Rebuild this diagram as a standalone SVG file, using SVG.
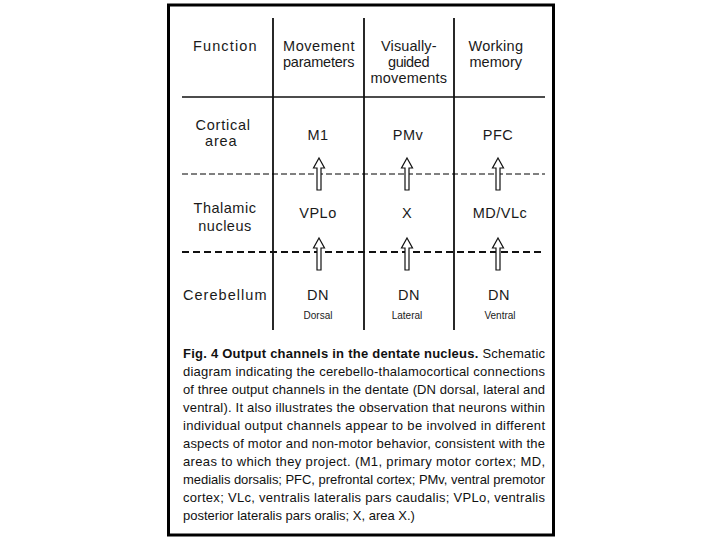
<svg xmlns="http://www.w3.org/2000/svg" width="720" height="540" viewBox="0 0 720 540">
<style>
.t{font-family:"Liberation Sans",Arial,sans-serif;font-size:14.5px;fill:#1a1a1a;letter-spacing:0.5px;text-anchor:middle}
.s{font-family:"Liberation Sans",Arial,sans-serif;font-size:10px;fill:#1a1a1a;text-anchor:middle}
.c{font-family:"Liberation Sans",Arial,sans-serif;font-size:13px;fill:#111}
.b{font-weight:bold}
.grid{stroke:#111;fill:none}
.arr{fill:#fff;stroke:#111;stroke-width:1.2;stroke-linejoin:miter}
</style>
<defs>
<path id="up" d="M0,0 L5.5,10 L2,10 L2,32 L-2,32 L-2,10 L-5.5,10 Z"/>
</defs>
<rect x="0" y="0" width="720" height="540" fill="#fff"/>
<rect x="168.5" y="5" width="385" height="530" fill="#fff" stroke="#000" stroke-width="3"/>
<g id="grid" class="grid">
<line x1="273" y1="18" x2="273" y2="330" stroke-width="1.8"/>
<line x1="364" y1="18" x2="364" y2="330" stroke-width="1.8"/>
<line x1="454" y1="18" x2="454" y2="330" stroke-width="1.8"/>
<line x1="182" y1="97" x2="545" y2="97" stroke-width="1.5"/>
<line x1="182" y1="174" x2="545" y2="174" stroke="#000" stroke-width="1" stroke-dasharray="6,3"/>
<line x1="182" y1="252" x2="545" y2="252" stroke-width="2" stroke-dasharray="7,4"/>
</g>
<g id="header">
<text class="t" x="225" y="51" textLength="64">Function</text>
<text class="t" x="319" y="51" textLength="72">Movement</text>
<text class="t" x="319" y="67" textLength="72">parameters</text>
<text class="t" x="409" y="51" textLength="56">Visually-</text>
<text class="t" x="409" y="67" textLength="42">guided</text>
<text class="t" x="409" y="83" textLength="77">movements</text>
<text class="t" x="496" y="51" textLength="55">Working</text>
<text class="t" x="496" y="67" textLength="53">memory</text>
</g>
<g id="row-cortical">
<text class="t" x="223" y="130" textLength="55">Cortical</text>
<text class="t" x="221" y="146" textLength="32">area</text>
</g>
<g id="M1"><text class="t" x="318" y="140">M1</text></g>
<g id="PMv"><text class="t" x="408" y="140">PMv</text></g>
<g id="PFC"><text class="t" x="498" y="140">PFC</text></g>
<g id="row-thalamic">
<text class="t" x="225" y="213">Thalamic</text>
<text class="t" x="225" y="231">nucleus</text>
</g>
<g id="VPLo"><text class="t" x="318" y="218">VPLo</text></g>
<g id="X"><text class="t" x="407" y="218">X</text></g>
<g id="MDVLc"><text class="t" x="500" y="218">MD/VLc</text></g>
<g id="row-cerebellum">
<text class="t" x="225" y="300" textLength="84">Cerebellum</text>
</g>
<g id="DN-dorsal"><text class="t" x="318" y="300">DN</text><text class="s" x="318" y="319">Dorsal</text></g>
<g id="DN-lateral"><text class="t" x="409" y="300">DN</text><text class="s" x="407" y="319">Lateral</text></g>
<g id="DN-ventral"><text class="t" x="499" y="300">DN</text><text class="s" x="500" y="319">Ventral</text></g>
<g id="connectors" class="arr">
<use href="#up" x="319" y="158"/>
<use href="#up" x="407" y="158"/>
<use href="#up" x="498" y="158"/>
<use href="#up" x="319" y="238"/>
<use href="#up" x="407" y="238"/>
<use href="#up" x="498" y="238"/>
</g>
<g id="caption">
<text class="c" x="183" y="358" textLength="362" lengthAdjust="spacing"><tspan class="b">Fig. 4 Output channels in the dentate nucleus.</tspan> Schematic</text>
<text class="c" x="183" y="376" textLength="362" lengthAdjust="spacing">diagram indicating the cerebello-thalamocortical connections</text>
<text class="c" x="183" y="394" textLength="362" lengthAdjust="spacing">of three output channels in the dentate (DN dorsal, lateral and</text>
<text class="c" x="183" y="412" textLength="362" lengthAdjust="spacing">ventral). It also illustrates the observation that neurons within</text>
<text class="c" x="183" y="430" textLength="362" lengthAdjust="spacing">individual output channels appear to be involved in different</text>
<text class="c" x="183" y="448" textLength="362" lengthAdjust="spacing">aspects of motor and non-motor behavior, consistent with the</text>
<text class="c" x="183" y="466" textLength="362" lengthAdjust="spacing">areas to which they project. (M1, primary motor cortex; MD,</text>
<text class="c" x="183" y="484" textLength="362" lengthAdjust="spacing">medialis dorsalis; PFC, prefrontal cortex; PMv, ventral premotor</text>
<text class="c" x="183" y="502" textLength="362" lengthAdjust="spacing">cortex; VLc, ventralis lateralis pars caudalis; VPLo, ventralis</text>
<text class="c" x="183" y="520">posterior lateralis pars oralis; X, area X.)</text>
</g>
</svg>
